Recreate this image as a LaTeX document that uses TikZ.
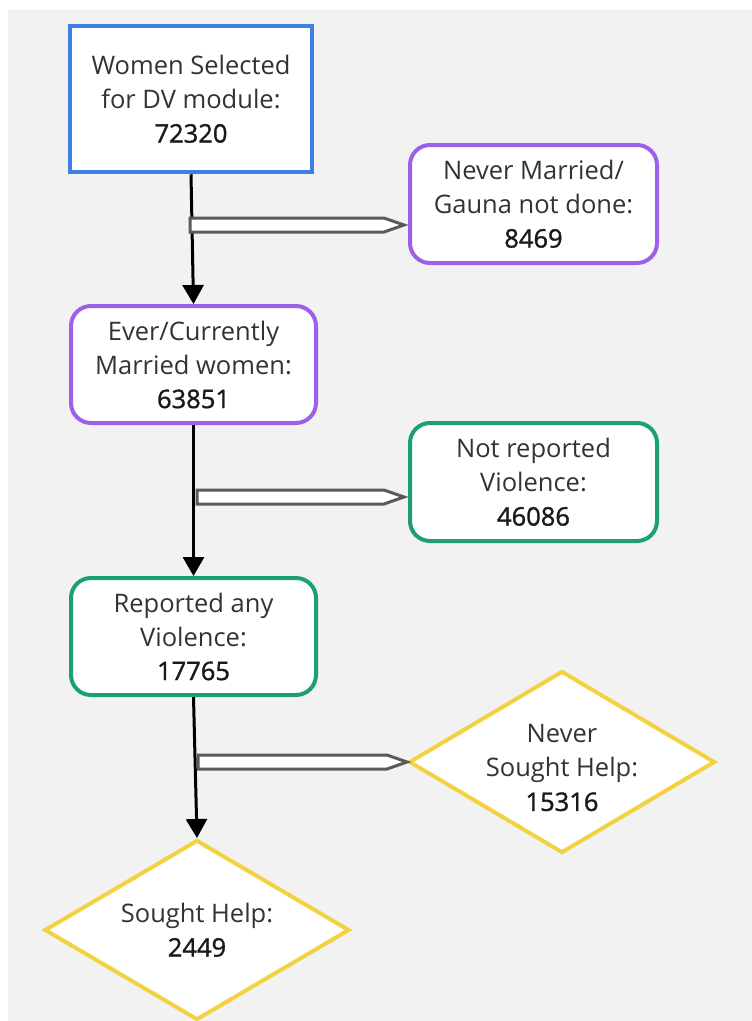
\documentclass[tikz,border=0pt]{standalone}
\usepackage{fontspec}
\setmainfont{Open Sans}
\newfontfamily\numfont[FakeBold=1.3]{Open Sans}
\usetikzlibrary{shapes.geometric,calc,arrows.meta}
\definecolor{bgc}{HTML}{F2F2F2}
\definecolor{cblue}{HTML}{3F7FE3}
\definecolor{cpurple}{HTML}{9D60E8}
\definecolor{cgreen}{HTML}{1E9E78}
\definecolor{cyellow}{HTML}{F4D140}
\definecolor{txt}{HTML}{333333}
\definecolor{numc}{HTML}{1A1A1A}
\definecolor{hollowc}{HTML}{5A5A5A}
\newcommand{\nm}[1]{{\numfont\color{numc}#1}}
\begin{document}
\begin{tikzpicture}[x=1pt,y=-1pt,
  every node/.style={font=\fontsize{25.5}{34}\selectfont, text=txt, align=center, inner sep=0pt},
  sqbox/.style={draw=cblue, line width=4.5pt, fill=white, rectangle},
  rbox/.style={line width=4pt, fill=white, rectangle, rounded corners=20pt},
  dbox/.style={draw=cyellow, line width=4pt, fill=white, diamond, shape aspect=1.65},
  flow/.style={line width=3pt, black, -{Triangle[length=19pt,width=21pt]}},
  hollow/.style={draw=hollowc, line width=3pt, fill=white, line join=miter}
]
\useasboundingbox (0,0) rectangle (752,1021);
\fill[white] (0,0) rectangle (752,1021);
\fill[bgc] (8,10) rectangle (752,1021);

\node[sqbox, minimum width=242, minimum height=146] (b1) at (191,99)
  {Women Selected\\for DV module:\\\nm{72320}};
\node[rbox, draw=cpurple, minimum width=247, minimum height=118] (b2) at (533.5,204)
  {Never Married/\\Gauna not done:\\\nm{8469}};
\node[rbox, draw=cpurple, minimum width=245, minimum height=117] (b3) at (193.5,364.5)
  {Ever/Currently\\Married women:\\\nm{63851}};
\node[rbox, draw=cgreen, minimum width=247, minimum height=118] (b4) at (533.5,482)
  {Not reported\\Violence:\\\nm{46086}};
\node[rbox, draw=cgreen, minimum width=245, minimum height=117] (b5) at (193.5,636.5)
  {Reported any\\Violence:\\\nm{17765}};
\node[dbox, inner sep=-20pt, minimum width=306, minimum height=182] (d1) at (562,762)
  {\rule{0pt}{30pt}Never\\Sought Help:\\\nm{15316}};
\node[dbox, minimum width=305, minimum height=180] (d2) at (197,930)
  {Sought Help:\\\nm{2449}};

\draw[flow] (b1.south) -- (b3.north);
\draw[flow] (b3.south) -- (b5.north);
\draw[flow] (b5.south) -- (d2.north);

\coordinate (h1) at (190,225);
\coordinate (h2) at (197,497);
\coordinate (h3) at (198,762);
\draw[hollow] let \p1=(h1), \p2=($(b2.west |- h1)$) in
  (\x1,\y1+7pt) -- (\x2-24pt,\y1+7pt) -- (\x2-4pt,\y1) -- (\x2-24pt,\y1-7pt) -- (\x1,\y1-7pt) -- cycle;
\draw[hollow] let \p1=(h2), \p2=($(b4.west |- h2)$) in
  (\x1,\y1+7pt) -- (\x2-24pt,\y1+7pt) -- (\x2-4pt,\y1) -- (\x2-24pt,\y1-7pt) -- (\x1,\y1-7pt) -- cycle;
\draw[hollow] let \p1=(h3), \p2=($(d1.west |- h3)$) in
  (\x1,\y1+7pt) -- (\x2-20pt,\y1+7pt) -- (\x2,\y1) -- (\x2-20pt,\y1-7pt) -- (\x1,\y1-7pt) -- cycle;
\end{tikzpicture}
\end{document}
